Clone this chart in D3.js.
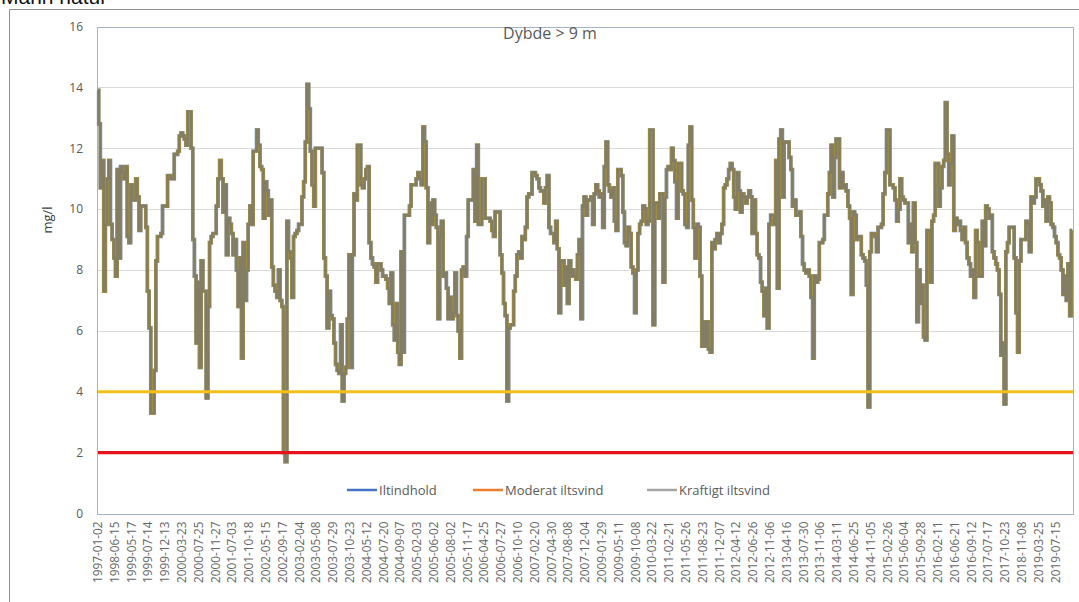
<!DOCTYPE html>
<html>
<head>
<meta charset="utf-8">
<script src="https://cdn.jsdelivr.net/npm/d3@7"></script>
<style>
  html, body { margin: 0; padding: 0; background: #ffffff; }
  svg { display: block; font-family: Lato, "Open Sans", "Liberation Sans", sans-serif; }
</style>
</head>
<body>
<svg id="chart" width="1079" height="602"></svg>
<script>
// Sample dates shown on the category axis (every 10th sample)
const dateLabels = [
  "1997-01-02","1998-06-15","1999-05-17","1999-07-14","1999-12-13","2000-03-23","2000-07-25","2000-11-27",
  "2001-07-03","2001-10-18","2002-05-15","2002-09-17","2003-02-04","2003-05-08","2003-07-29","2003-10-23",
  "2004-05-12","2004-07-20","2004-09-07","2005-02-03","2005-06-02","2005-08-02","2005-11-17","2006-04-25",
  "2006-07-27","2006-10-10","2007-02-20","2007-04-30","2007-08-08","2007-12-04","2009-01-29","2009-05-11",
  "2009-10-08","2010-03-22","2011-02-21","2011-05-26","2011-08-23","2011-12-07","2012-04-12","2012-06-26",
  "2012-11-06","2013-04-16","2013-07-30","2013-11-06","2014-03-11","2014-06-25","2014-11-05","2015-02-26",
  "2015-06-04","2015-09-28","2016-02-11","2016-06-21","2016-09-12","2017-07-17","2017-10-23","2018-11-08",
  "2019-03-25","2019-07-15"
];
const labelEvery = 10;

// Oxygen content (mg/l) below 9 m depth, one value per sample
const iltindhold = [
  13.9,12.8,10.7,11.6,7.3,9.5,11.0,11.6,9.5,9.0,8.4,7.8,11.3,8.4,11.4,11.2,11.0,11.4,9.1,8.9,
  10.8,10.3,10.3,11.0,10.4,9.3,10.1,10.1,10.1,9.4,7.3,6.1,3.3,3.3,4.7,8.3,9.1,9.1,9.2,10.1,
  10.1,10.1,11.1,11.1,11.0,11.0,11.8,11.8,11.9,12.4,12.5,12.4,12.3,12.1,13.2,13.2,12.0,9.0,7.8,5.6,
  7.6,4.8,8.3,7.3,7.3,3.8,6.8,8.9,9.1,9.2,9.2,10.1,11.0,11.6,11.0,9.9,10.8,8.5,9.7,9.5,
  9.2,8.5,9.0,8.0,6.8,8.4,5.1,8.9,7.0,8.0,9.5,10.1,9.5,11.9,11.9,12.6,12.1,11.4,11.3,9.7,
  10.9,10.6,9.8,10.3,8.1,7.5,7.3,7.1,8.0,7.0,6.8,2.0,1.7,9.6,8.6,8.4,7.1,9.1,9.2,9.3,
  9.5,9.5,10.4,10.9,12.2,14.1,13.3,11.9,10.8,10.1,12.0,12.0,12.0,12.0,11.2,8.4,7.8,6.1,7.3,6.5,
  6.4,5.6,4.9,4.7,4.6,6.2,3.7,4.6,4.8,6.4,8.5,4.8,8.5,10.5,10.3,12.1,12.1,10.8,10.7,11.0,
  11.3,11.4,8.9,8.4,8.2,8.1,7.6,8.2,8.2,8.0,7.8,7.8,7.7,7.4,6.9,7.9,6.2,5.7,6.9,5.3,
  4.9,8.6,5.3,9.8,9.8,9.8,10.1,10.8,10.8,10.8,11.0,11.2,11.0,10.8,12.7,12.2,10.7,8.9,10.2,9.5,
  10.3,9.8,9.4,6.4,9.1,9.6,7.8,7.9,7.4,6.4,7.1,6.4,6.6,7.9,6.5,6.0,5.1,8.0,8.1,7.8,
  9.1,10.3,10.3,10.3,11.3,9.6,12.1,9.5,9.5,11.0,11.0,9.7,9.7,9.7,9.6,9.3,9.1,9.9,9.9,9.9,
  8.5,7.9,6.9,6.5,3.7,6.1,6.2,6.2,7.3,7.8,8.5,8.6,8.4,9.1,9.0,9.4,10.4,10.5,10.5,11.2,
  11.2,11.1,11.0,10.7,10.6,10.6,10.2,10.7,11.1,9.4,9.2,9.2,8.9,9.6,8.7,6.6,8.3,8.3,7.5,8.1,
  6.9,8.3,7.8,8.0,7.8,7.7,8.5,9.0,6.4,10.1,10.4,9.8,10.3,10.3,10.4,9.5,10.5,10.8,10.6,10.4,
  10.5,9.4,11.4,12.2,10.8,10.6,10.4,10.7,9.6,9.3,11.3,11.3,11.1,9.9,8.9,8.8,9.4,9.2,8.1,7.9,
  6.6,8.0,9.2,9.5,9.6,10.1,10.0,9.5,9.6,12.6,12.6,6.2,10.2,10.2,9.7,10.5,10.5,7.6,10.4,11.3,
  11.4,11.3,12.0,11.6,10.9,9.7,11.5,11.5,10.6,10.5,9.5,9.4,12.1,12.7,10.3,9.4,8.4,9.5,9.4,7.8,
  5.5,6.3,5.5,6.3,5.4,5.3,8.9,8.7,9.0,9.2,8.9,9.2,9.5,10.7,10.8,11.0,11.3,11.5,11.3,10.4,
  10.0,11.2,10.6,9.9,10.5,10.4,10.2,10.4,10.6,10.4,9.2,10.3,9.2,8.5,8.4,7.6,7.3,6.5,7.4,6.1,
  9.5,9.8,9.8,9.5,11.6,7.4,12.3,12.6,10.4,12.2,12.2,12.2,11.7,11.3,10.1,10.3,9.8,9.8,9.9,9.1,
  8.2,8.0,7.9,8.0,7.8,7.1,5.1,7.8,7.6,7.7,8.9,8.9,9.0,9.8,9.8,10.5,11.2,12.1,10.4,11.7,
  12.3,12.3,10.7,11.2,10.7,10.8,10.6,10.1,9.7,7.2,9.9,9.8,9.0,9.1,9.1,8.5,8.4,8.3,7.5,3.5,
  8.6,9.2,9.2,9.1,8.6,9.4,9.4,9.5,10.5,11.2,12.6,12.6,10.8,10.8,10.7,10.3,9.6,10.0,11.0,10.4,
  10.3,10.2,10.2,8.9,9.5,8.6,10.2,8.9,6.3,8.0,6.9,7.5,5.8,5.7,9.3,9.3,7.6,9.6,9.8,11.5,
  11.5,10.1,10.7,11.4,11.6,13.5,11.8,10.8,11.5,12.4,9.3,9.7,9.5,9.6,9.3,9.0,9.4,8.9,8.4,8.2,
  7.8,8.0,7.1,9.3,8.9,7.8,7.8,9.6,8.8,10.1,10.0,9.7,9.8,8.6,8.4,8.2,8.0,7.2,5.2,5.6,
  3.6,8.6,8.9,9.4,9.4,9.4,8.4,6.6,5.3,8.3,9.0,9.0,9.0,9.6,9.5,8.6,10.4,10.2,10.4,11.0,
  11.0,10.8,10.6,10.1,10.3,9.6,10.4,10.2,9.5,9.4,9.1,8.9,8.5,8.4,8.0,7.2,7.8,7.0,8.2,6.5,
  9.3
];

// Oxygen depletion limits (mg/l)
const moderatIltsvind = 4;
const kraftigtIltsvind = 2;

const yTicks = [0, 2, 4, 6, 8, 10, 12, 14, 16];
const legendNames = ["Iltindhold", "Moderat iltsvind", "Kraftigt iltsvind"];
const legendColors = ["#4472c4", "#ed7d31", "#a5a5a5"];

const svg = d3.select("#chart");
const plot = { left: 97, right: 1073, top: 26.5, bottom: 513.5 };

// Outer frame of the chart object
svg.append("path")
  .attr("d", d3.line()([[9.5, 602], [9.5, 9.5], [1079, 9.5]]))
  .attr("fill", "none").attr("stroke", "#8f8f8f").attr("stroke-width", 1);

// Heading partly above the frame
svg.append("text")
  .attr("x", 1).attr("y", 4)
  .attr("font-family", "'Liberation Sans', Arial, sans-serif")
  .attr("font-size", 21).attr("fill", "#111")
  .text("Marin natur");

const x = d3.scaleBand()
  .domain(d3.range(iltindhold.length))
  .range([plot.left, plot.right])
  .paddingInner(0).paddingOuter(0);
const half = x.bandwidth() / 2;
const y = d3.scaleLinear().domain([0, 16]).range([plot.bottom, plot.top]);

// Horizontal gridlines
svg.append("g")
  .selectAll("line")
  .data(yTicks.filter(t => t > 0 && t < 16))
  .join("line")
  .attr("x1", plot.left).attr("x2", plot.right)
  .attr("y1", d => Math.round(y(d)) + 0.5).attr("y2", d => Math.round(y(d)) + 0.5)
  .attr("stroke", "#d9d9d9").attr("stroke-width", 1);

// Plot area border
svg.append("rect")
  .attr("x", plot.left + 0.5).attr("y", Math.round(plot.top) + 0.5)
  .attr("width", plot.right - plot.left)
  .attr("height", Math.round(plot.bottom) - Math.round(plot.top))
  .attr("fill", "none").attr("stroke", "#a3b3cb").attr("stroke-width", 1);

// Value axis
const yAxis = svg.append("g")
  .attr("transform", `translate(${plot.left},0)`)
  .call(d3.axisLeft(y).tickValues(yTicks).tickSize(0).tickPadding(14));
yAxis.select(".domain").remove();
yAxis.selectAll("text")
  .attr("font-size", 12).attr("fill", "#595959")
  .attr("font-family", "'Open Sans', sans-serif");

// Category axis with rotated date labels
const labelIdx = d3.range(0, iltindhold.length, labelEvery).slice(0, dateLabels.length);
const xAxis = svg.append("g")
  .attr("transform", `translate(0,${plot.bottom})`)
  .call(d3.axisBottom(x).tickValues(labelIdx).tickSize(0)
    .tickFormat((d, i) => dateLabels[i]));
xAxis.select(".domain").remove();
xAxis.selectAll("text")
  .attr("transform", "rotate(-90)")
  .attr("text-anchor", "end")
  .attr("x", -8).attr("y", 0).attr("dy", "0.35em")
  .attr("font-size", 11.8).attr("fill", "#666666")
  .attr("font-family", "'Open Sans', sans-serif");

// Value-axis title
svg.append("text")
  .attr("transform", "translate(52,220) rotate(-90)")
  .attr("text-anchor", "middle")
  .attr("font-size", 13).attr("fill", "#404040")
  .attr("font-family", "'Open Sans', sans-serif")
  .text("mg/l");

// Chart title
svg.append("text")
  .attr("x", 550).attr("y", 39)
  .attr("text-anchor", "middle")
  .attr("font-size", 16).attr("fill", "#595959")
  .attr("font-family", "'Open Sans', sans-serif")
  .text("Dybde > 9 m");

// Oxygen series, drawn as overlapping strokes
const oxLine = d3.line()
  .x((d, i) => x(i) + half)
  .y(d => y(d))
  .curve(d3.curveStep);

const lines = svg.append("g").attr("fill", "none").attr("stroke-linejoin", "miter");
lines.append("path").attr("d", oxLine(iltindhold))
  .attr("stroke", "#4a70b6").attr("stroke-width", 3.6);
lines.append("path").attr("d", oxLine(iltindhold))
  .attr("stroke", "#c09a16").attr("stroke-width", 3.2);
lines.append("path").attr("d", oxLine(iltindhold))
  .attr("stroke", "#7c7b6c").attr("stroke-width", 2.6).attr("stroke-opacity", 0.9);

// Depletion limit lines
svg.append("line")
  .attr("x1", plot.left + 1).attr("x2", plot.right)
  .attr("y1", y(moderatIltsvind)).attr("y2", y(moderatIltsvind))
  .attr("stroke", "#f2c019").attr("stroke-width", 3.2);
svg.append("line")
  .attr("x1", plot.left + 1).attr("x2", plot.right)
  .attr("y1", y(kraftigtIltsvind)).attr("y2", y(kraftigtIltsvind))
  .attr("stroke", "#e5141b").attr("stroke-width", 3.2);

// Legend
const legendX = [347, 473, 647];
const legend = svg.append("g");
legendNames.forEach((name, i) => {
  const g = legend.append("g").attr("transform", `translate(${legendX[i]},490)`);
  g.append("line").attr("x1", 0).attr("x2", 30).attr("y1", 0).attr("y2", 0)
    .attr("stroke", legendColors[i]).attr("stroke-width", 2.5);
  g.append("text").attr("x", 32).attr("y", 0).attr("dy", "0.35em")
    .attr("font-size", 13).attr("fill", "#595959")
    .attr("font-family", "'Open Sans', sans-serif")
    .text(name);
});
</script>
</body>
</html>
